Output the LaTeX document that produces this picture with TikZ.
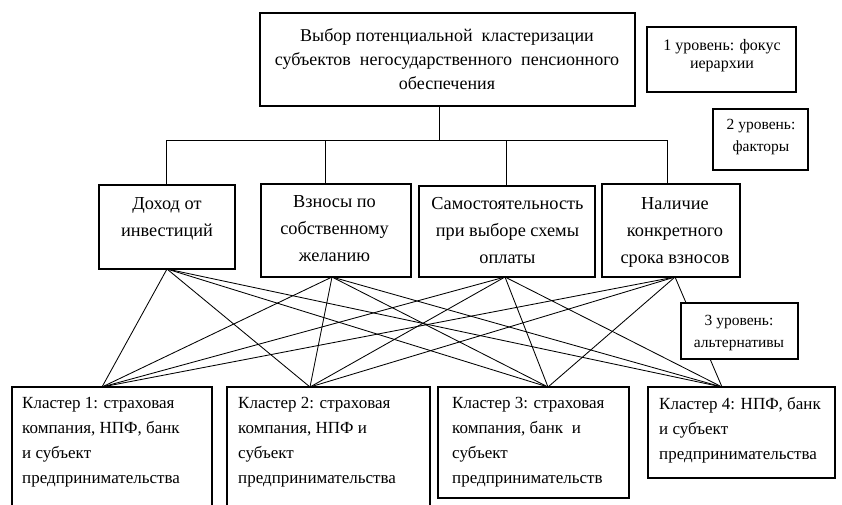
\documentclass[tikz,border=0pt]{standalone}
\usepackage{fontspec}
\setmainfont{Liberation Serif}
\usetikzlibrary{calc}
\begin{document}
\begin{tikzpicture}[x=1pt,y=-1pt,
  box/.style={draw, line width=1.2pt, inner sep=0pt, outer sep=0pt, fill=white},
  wire/.style={line width=0.85pt},
  toptxt/.style={inner sep=0pt, align=center, anchor=north, font=\fontsize{18}{24}\selectfont, execute at begin node=\rule{0pt}{14.5pt}},
  factxt/.style={inner sep=0pt, align=center, anchor=north, font=\fontsize{18.3}{27}\selectfont, execute at begin node=\rule{0pt}{14.5pt}},
  clutxt/.style={inner sep=0pt, align=left, anchor=north west, font=\fontsize{17}{25}\selectfont, execute at begin node=\rule{0pt}{13.5pt}},
  labtxt/.style={inner sep=0pt, align=center, anchor=north, font=\fontsize{16}{18}\selectfont, execute at begin node=\rule{0pt}{12pt}},
  labtxtb/.style={labtxt, font=\fontsize{15.5}{22}\selectfont}
]
\clip (0,0) rectangle (842,504);
\fill[white] (0,0) rectangle (842,504);

% top box
\node[box, minimum width=375, minimum height=93] (top) at (447.5,59.5) {};
\node[toptxt] (topt) at (447,28) {Выбор потенциальной \ кластеризации\\субъектов \ негосударственного \ пенсионного\\обеспечения};

% level labels 1,2
\node[box, minimum width=149, minimum height=65] (lab1) at (721.5,59.5) {};
\node[labtxt] (lab1t) at (722,39.5) {1 уровень: фокус\\иерархии};
\node[box, minimum width=95, minimum height=61] (lab2) at (760.5,139.5) {};
\node[labtxtb] (lab2t) at (761,119.5) {2 уровень:\\факторы};

% factor boxes
\node[box, minimum width=136, minimum height=84] (f1) at (167,227) {};
\node[factxt] (f1t) at (167,197.5) {Доход от\\инвестиций};
\node[box, minimum width=150, minimum height=93] (f2) at (336,230.5) {};
\node[factxt] (f2t) at (334.5,195.5) {Взносы по\\собственному\\желанию};
\node[box, minimum width=176, minimum height=91] (f3) at (507,231.5) {};
\node[factxt] (f3t) at (507.5,197.5) {Самостоятельность\\при выборе схемы\\оплаты};
\node[box, minimum width=138, minimum height=93] (f4) at (671,230.5) {};
\node[factxt] (f4t) at (675,197.5) {Наличие\\конкретного\\срока взносов};

% tree
\coordinate (tb) at ($(top.south)+(-8.5,0)$);
\coordinate (hub) at ($(tb)+(0,34)$);
\coordinate (t1) at ($(f1.north)+(-1,0)$);
\coordinate (t2) at ($(f2.north)+(-11,0)$);
\coordinate (t3) at ($(f3.north)+(-1,0)$);
\coordinate (t4) at ($(f4.north)+(-4,0)$);
\draw[wire] (tb) -- (hub);
\draw[wire] (t1) -- (t1 |- hub) -- (t4 |- hub) -- (t4);
\draw[wire] (t2) -- (t2 |- hub);
\draw[wire] (t3) -- (t3 |- hub);

% cluster boxes
\node[box, minimum width=200, minimum height=130] (k1) at (112,452) {};
\node[clutxt] (k1t) at (22,397) {Кластер 1: страховая\\компания, НПФ, банк\\и субъект\\предпринимательства};
\node[box, minimum width=203, minimum height=130] (k2) at (328.5,452) {};
\node[clutxt] (k2t) at (238,397) {Кластер 2: страховая\\компания, НПФ и\\субъект\\предпринимательства};
\node[box, minimum width=191, minimum height=111] (k3) at (533.5,442.5) {};
\node[clutxt] (k3t) at (452,397) {Кластер 3: страховая\\компания, банк \ и\\субъект\\предпринимательств};
\node[box, minimum width=187, minimum height=91] (k4) at (741.5,432.5) {};
\node[clutxt] (k4t) at (659,397) {Кластер 4: НПФ, банк\\и субъект\\предпринимательства};

% connectors factors -> clusters
\coordinate (b1) at (f1.south);
\coordinate (b2) at ($(f2.south)+(-4,0)$);
\coordinate (b3) at ($(f3.south)+(-2,0)$);
\coordinate (b4) at ($(f4.south)+(4,0)$);
\coordinate (c1) at ($(k1.north)+(-10,0)$);
\coordinate (c2) at ($(k2.north)+(-18.5,0)$);
\coordinate (c3) at ($(k3.north)+(14.5,0)$);
\coordinate (c4) at ($(k4.north)+(-19.5,0)$);
\foreach \b in {b1,b2,b3,b4}{
  \foreach \c in {c1,c2,c3,c4}{
    \draw[wire] (\b) -- (\c);
  }
}

% level label 3
\node[box, minimum width=117, minimum height=56] (lab3) at (739.5,331) {};
\node[labtxtb] (lab3t) at (739,315.5) {3 уровень:\\альтернативы};
\end{tikzpicture}
\end{document}
